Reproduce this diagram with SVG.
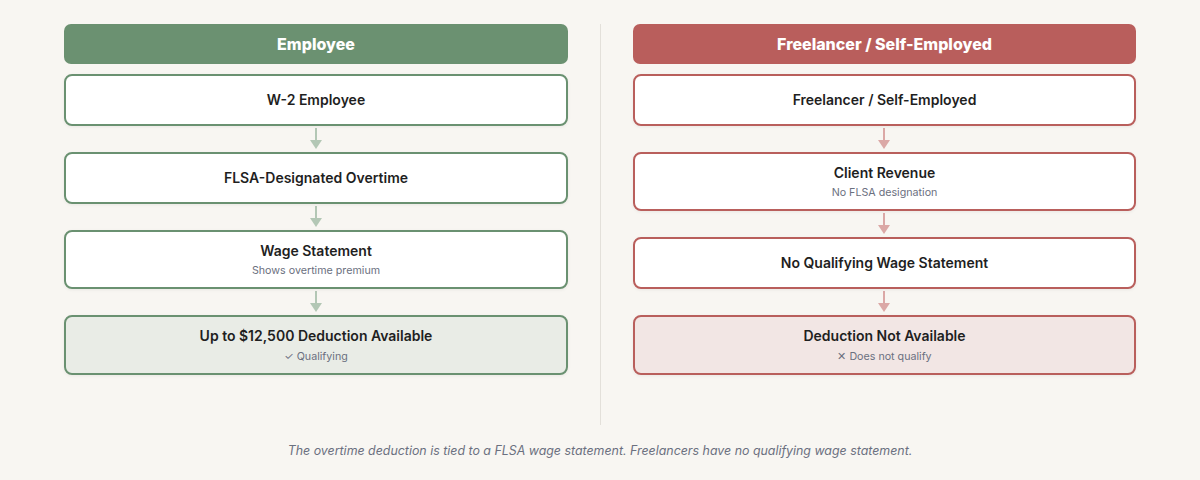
<svg xmlns="http://www.w3.org/2000/svg" width="1200" height="480" viewBox="0 0 1200 480">
<defs>
<filter id="sh" x="-5%" y="-20%" width="110%" height="150%">
<feDropShadow dx="0" dy="1" stdDeviation="1.5" flood-color="#000" flood-opacity="0.06"/>
</filter>
</defs>
<style>
.bg{fill:#f8f6f2}
.hdr-g{fill:#6b9171}
.hdr-r{fill:#b95e5c}
.hdrt{font-family:Inter,"Noto Sans","Liberation Sans",sans-serif;font-weight:800;font-size:16px;fill:#ffffff;text-anchor:middle}
.bx-g{fill:#ffffff;stroke:#6b9171;stroke-width:2;filter:url(#sh)}
.bx-r{fill:#ffffff;stroke:#b95e5c;stroke-width:2;filter:url(#sh)}
.fin-g{fill:#e9ece6;stroke:#6b9171;stroke-width:2;filter:url(#sh)}
.fin-r{fill:#f2e6e4;stroke:#b95e5c;stroke-width:2;filter:url(#sh)}
.t{font-family:Inter,"Noto Sans","Liberation Sans",sans-serif;font-weight:600;font-size:14px;fill:#1f1f1f;text-anchor:middle}
.s{font-family:Inter,"Noto Sans","Liberation Sans",sans-serif;font-size:10.7px;fill:#6b7080;text-anchor:middle}
.ln-g{stroke:#b3c7b5;stroke-width:2;fill:none}
.ln-r{stroke:#dba8a6;stroke-width:2;fill:none}
.hd-g{fill:#b3c7b5}
.hd-r{fill:#dba8a6}
.div{stroke:#e3e0da;stroke-width:1}
.foot{font-family:Inter,"Noto Sans","Liberation Sans",sans-serif;font-style:italic;font-size:12.4px;fill:#6b7080;text-anchor:middle}
</style>
<rect class="bg" x="0" y="0" width="1200" height="480"/>
<line class="div" x1="600.5" y1="24" x2="600.5" y2="425"/>

<g id="hdr-employee">
<rect class="hdr-g" x="64" y="24" width="504" height="40" rx="7"/>
<text class="hdrt" x="316" y="50">Employee</text>
</g>
<g id="hdr-freelancer">
<rect class="hdr-r" x="633" y="24" width="503" height="40" rx="7"/>
<text class="hdrt" x="884.5" y="50">Freelancer / Self-Employed</text>
</g>

<g id="connectors">
<line class="ln-g" x1="316" y1="128" x2="316" y2="141"/>
<polygon class="hd-g" points="310,140 322,140 316,149"/>
<line class="ln-g" x1="316" y1="206" x2="316" y2="219"/>
<polygon class="hd-g" points="310,218 322,218 316,227"/>
<line class="ln-g" x1="316" y1="291" x2="316" y2="304"/>
<polygon class="hd-g" points="310,303 322,303 316,312"/>
<line class="ln-r" x1="884" y1="128" x2="884" y2="141"/>
<polygon class="hd-r" points="878,140 890,140 884,149"/>
<line class="ln-r" x1="884" y1="213" x2="884" y2="226"/>
<polygon class="hd-r" points="878,225 890,225 884,234"/>
<line class="ln-r" x1="884" y1="291" x2="884" y2="304"/>
<polygon class="hd-r" points="878,303 890,303 884,312"/>
</g>

<g id="w2-employee">
<rect class="bx-g" x="65" y="75" width="502" height="50" rx="7"/>
<text class="t" x="316" y="105">W-2 Employee</text>
</g>
<g id="flsa-overtime">
<rect class="bx-g" x="65" y="153" width="502" height="50" rx="7"/>
<text class="t" x="316" y="183">FLSA-Designated Overtime</text>
</g>
<g id="wage-statement">
<rect class="bx-g" x="65" y="231" width="502" height="57" rx="7"/>
<text class="t" x="316" y="256">Wage Statement</text>
<text class="s" x="316" y="274">Shows overtime premium</text>
</g>
<g id="deduction-available">
<rect class="fin-g" x="65" y="316" width="502" height="58" rx="7"/>
<text class="t" x="316" y="341">Up to $12,500 Deduction Available</text>
<text class="s" x="316" y="360">✓ Qualifying</text>
</g>

<g id="freelancer">
<rect class="bx-r" x="634" y="75" width="501" height="50" rx="7"/>
<text class="t" x="884.5" y="105">Freelancer / Self-Employed</text>
</g>
<g id="client-revenue">
<rect class="bx-r" x="634" y="153" width="501" height="57" rx="7"/>
<text class="t" x="884.5" y="178">Client Revenue</text>
<text class="s" x="884.5" y="196">No FLSA designation</text>
</g>
<g id="no-wage-statement">
<rect class="bx-r" x="634" y="238" width="501" height="50" rx="7"/>
<text class="t" x="884.5" y="268">No Qualifying Wage Statement</text>
</g>
<g id="deduction-not-available">
<rect class="fin-r" x="634" y="316" width="501" height="58" rx="7"/>
<text class="t" x="884.5" y="341">Deduction Not Available</text>
<text class="s" x="884.5" y="360">✕ Does not qualify</text>
</g>

<text class="foot" x="600" y="455">The overtime deduction is tied to a FLSA wage statement. Freelancers have no qualifying wage statement.</text>
</svg>
